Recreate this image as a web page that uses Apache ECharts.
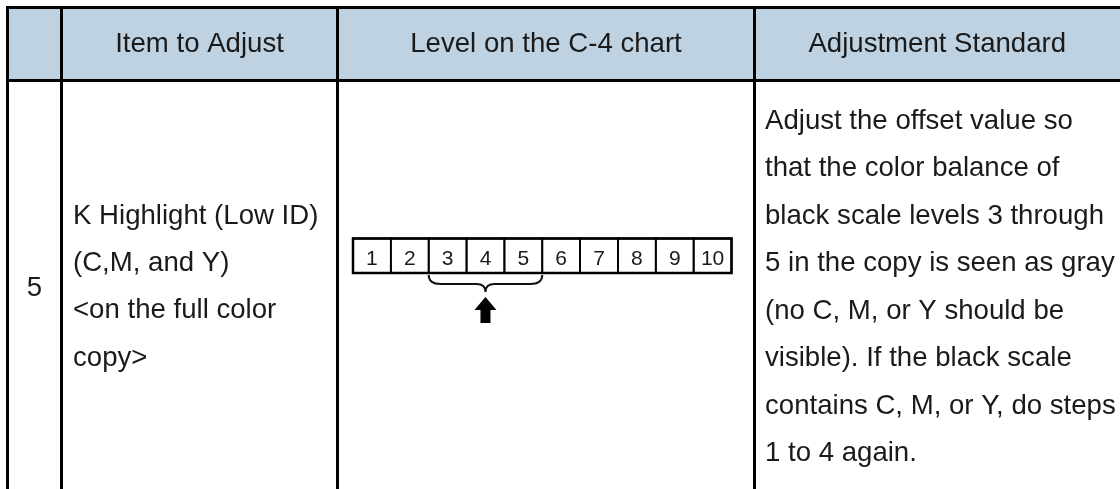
<!DOCTYPE html>
<html><head><meta charset="utf-8">
<script src="https://cdn.jsdelivr.net/npm/echarts@6/dist/echarts.min.js"></script>
<style>html,body{margin:0;padding:0;background:#fff}#c{width:1120px;height:489px}</style>
</head><body><div id="c"></div>
<script>
// ---- data ----
const headers = ['', 'Item to Adjust', 'Level on the C-4 chart', 'Adjustment Standard'];
const rowNumber = '5';
const itemLines = ['K Highlight (Low ID)', '(C,M, and Y)', '<on the full color', 'copy>'];
const standardLines = [
  'Adjust the offset value so',
  'that the color balance of',
  'black scale levels 3 through',
  '5 in the copy is seen as gray',
  '(no C, M, or Y should be',
  'visible). If the black scale',
  'contains C, M, or Y, do steps',
  '1 to 4 again.'
];
const levels = ['1', '2', '3', '4', '5', '6', '7', '8', '9', '10'];
const highlightRange = ['3', '5'];

// ---- layout ----
const W = 1120, H = 489;
const colX = [7.5, 61.5, 337.5, 754.5];
const topY = 7.5, headY = 80.5;
const FONT = '"Liberation Sans", Arial, sans-serif';
const FS = '27.6px ';
const TXT = '#1a1a1a';

const chart = echarts.init(document.getElementById('c'), null, {renderer: 'canvas'});
const g = [];
// header fill
g.push({type: 'rect', shape: {x: colX[0], y: topY, width: W - colX[0], height: headY - topY}, style: {fill: '#BED2E1'}, z: 0});
// horizontal lines
g.push({type: 'line', shape: {x1: colX[0] - 1.5, y1: topY, x2: W, y2: topY}, style: {stroke: '#000', lineWidth: 3}, z: 2});
g.push({type: 'line', shape: {x1: colX[0] - 1.5, y1: headY, x2: W, y2: headY}, style: {stroke: '#000', lineWidth: 3}, z: 2});
// vertical lines
colX.forEach(x => g.push({type: 'line', shape: {x1: x, y1: topY, x2: x, y2: H}, style: {stroke: '#000', lineWidth: 3}, z: 2}));
// header texts
const colEdges = colX.concat([W]);
headers.forEach((h, i) => {
  if (!h) return;
  g.push({type: 'text', z: 3, style: {text: h, x: (colEdges[i] + colEdges[i + 1]) / 2, y: 44, textAlign: 'center', textVerticalAlign: 'middle', verticalAlign: 'middle', font: FS + FONT, fill: TXT}});
});
// row number
g.push({type: 'text', z: 3, style: {text: rowNumber, x: (colX[0] + colX[1]) / 2, y: 288, textAlign: 'center', textVerticalAlign: 'middle', verticalAlign: 'middle', font: FS + FONT, fill: TXT}});
// item lines
itemLines.forEach((t, i) => g.push({type: 'text', z: 3, style: {text: t, x: 73, y: 216 + 47.4 * i, textAlign: 'left', textVerticalAlign: 'middle', verticalAlign: 'middle', font: FS + FONT, fill: TXT}}));
// standard lines
standardLines.forEach((t, i) => g.push({type: 'text', z: 3, style: {text: t, x: 765, y: 121 + 47.5 * i, textAlign: 'left', textVerticalAlign: 'middle', verticalAlign: 'middle', font: FS + FONT, fill: TXT}}));

const option = {
  animation: false,
  backgroundColor: '#fff',
  grid: {left: 353, top: 238.5, width: 378.5, height: 34.5, show: true, borderColor: '#000', borderWidth: 2.5, backgroundColor: '#fff'},
  xAxis: {type: 'category', data: levels, show: false, boundaryGap: true},
  yAxis: {type: 'value', min: 0, max: 1, show: false},
  graphic: g,
  series: [
    {
      type: 'custom',
      z: 5,
      data: levels.map((l, i) => [i, 1]),
      renderItem: function (params, api) {
        const idx = api.value(0);
        const p = api.coord([idx, 1]);
        const s = api.size([1, 1]);
        return {
          type: 'group',
          children: [
            {type: 'rect', shape: {x: p[0] - s[0] / 2, y: p[1], width: s[0], height: s[1]}, style: {fill: 'none', stroke: '#000', lineWidth: 1.8}},
            {type: 'text', style: {text: levels[idx], x: p[0], y: p[1] + s[1] / 2 + 3, textAlign: 'center', textVerticalAlign: 'middle', verticalAlign: 'middle', font: '21px ' + FONT, fill: TXT}}
          ]
        };
      }
    },
    {
      type: 'custom',
      z: 5,
      data: [[levels.indexOf(highlightRange[0]), levels.indexOf(highlightRange[1])]],
      renderItem: function (params, api) {
        const a = api.coord([api.value(0), 0]);
        const b = api.coord([api.value(1), 0]);
        const s = api.size([1, 1]);
        const x0 = a[0] - s[0] / 2, x1 = b[0] + s[0] / 2, xm = (x0 + x1) / 2;
        const y0 = a[1] + 2, yh = y0 + 9, yt = y0 + 17;
        const brace = 'M' + x0 + ' ' + y0 + ' Q' + x0 + ' ' + yh + ' ' + (x0 + 12) + ' ' + yh +
          ' L' + (xm - 9) + ' ' + yh + ' Q' + xm + ' ' + yh + ' ' + xm + ' ' + yt +
          ' Q' + xm + ' ' + yh + ' ' + (xm + 9) + ' ' + yh +
          ' L' + (x1 - 12) + ' ' + yh + ' Q' + x1 + ' ' + yh + ' ' + x1 + ' ' + y0;
        const at = yt + 5, ab = at + 13, ae = at + 26;
        const arrow = 'M' + xm + ' ' + at + ' L' + (xm + 11) + ' ' + ab + ' L' + (xm + 5) + ' ' + ab +
          ' L' + (xm + 5) + ' ' + ae + ' L' + (xm - 5) + ' ' + ae + ' L' + (xm - 5) + ' ' + ab +
          ' L' + (xm - 11) + ' ' + ab + ' Z';
        return {
          type: 'group',
          children: [
            {type: 'path', shape: {pathData: brace}, style: {fill: 'none', stroke: '#111', lineWidth: 2}},
            {type: 'path', shape: {pathData: arrow}, style: {fill: '#000', stroke: 'none'}}
          ]
        };
      }
    }
  ]
};
chart.setOption(option);
</script>
</body></html>
